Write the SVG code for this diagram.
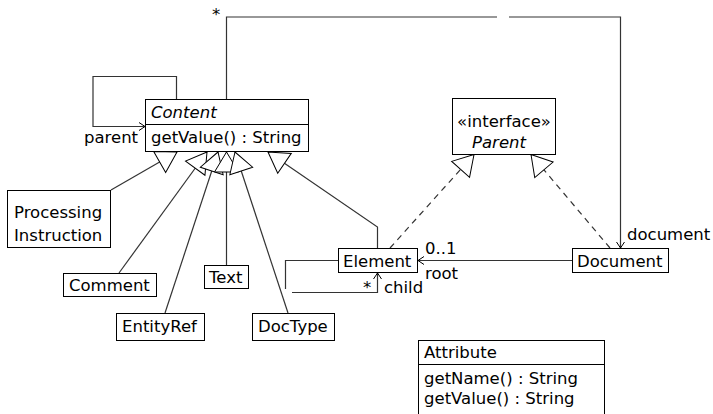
<svg xmlns="http://www.w3.org/2000/svg" width="713" height="414" viewBox="0 0 713 414">
<style>
text{font-family:"DejaVu Sans","Liberation Sans",sans-serif;font-size:16.5px;fill:#000}
.it{font-style:italic}
.box{fill:#fff;stroke:#000;stroke-width:1}
.ln{fill:none;stroke:#333;stroke-width:1.2}
.dash{stroke-dasharray:6,5}
</style>
<defs>
<marker id="gen" viewBox="-22 -14 25 28" refX="0" refY="0" markerWidth="25" markerHeight="28" markerUnits="userSpaceOnUse" orient="auto">
<path d="M0,0 L-20,-12 L-20,12 Z" fill="#fff" stroke="#000" stroke-width="1" stroke-dasharray="none"/>
</marker>
<marker id="open" viewBox="-8 -6 10 12" refX="0" refY="0" markerWidth="10" markerHeight="12" markerUnits="userSpaceOnUse" orient="auto">
<path d="M-6,-4 L0,0 L-6,4" fill="none" stroke="#000" stroke-width="1"/>
</marker>
</defs>
<rect width="713" height="414" fill="#fff"/>
<g id="connectors">
<path class="ln" d="M111,190 L177,152" marker-end="url(#gen)"/>
<path class="ln" d="M119,273 L207,152" marker-end="url(#gen)"/>
<path class="ln" d="M165,313 L218,152" marker-end="url(#gen)"/>
<path class="ln" d="M226.5,265 L226.5,152" marker-end="url(#gen)"/>
<path class="ln" d="M288,313 L235,152" marker-end="url(#gen)"/>
<path class="ln" d="M377.5,248 V227 L268,152" marker-end="url(#gen)"/>
<path class="ln dash" d="M390,248 L474,154.5" marker-end="url(#gen)"/>
<path class="ln dash" d="M610,248 L531,154.5" marker-end="url(#gen)"/>
<path class="ln" d="M176.5,99.5 V76.5 H93 V126.5 H145" marker-end="url(#open)"/>
<path class="ln" d="M226.5,99.5 V17 H497"/>
<path class="ln" d="M509,17 H620.5 V248" marker-end="url(#open)"/>
<path class="ln" d="M572,260.5 H418" marker-end="url(#open)"/>
<path class="ln" d="M338,260.5 H285.5 V289"/>
<path class="ln" d="M292,292.5 H377.5 V273" marker-end="url(#open)"/>
<text x="212" y="20">*</text>
<text x="84" y="143">parent</text>
<text x="627" y="240">document</text>
<text x="425" y="254">0..1</text>
<text x="425" y="278.5">root</text>
<text x="363" y="293">*</text>
<text x="384" y="292.5">child</text>
</g>
<g id="Content">
<rect class="box" x="145.5" y="99.5" width="163" height="52"/>
<line x1="145.5" y1="124.5" x2="308.5" y2="124.5" stroke="#000"/>
<text class="it" x="151" y="118">Content</text>
<text x="151" y="143">getValue() : String</text>
</g>
<g id="Parent">
<rect class="box" x="452.5" y="98.5" width="103" height="56"/>
<text x="504" y="127" text-anchor="middle">«interface»</text>
<text class="it" x="499" y="147.5" text-anchor="middle">Parent</text>
</g>
<g id="ProcessingInstruction">
<rect class="box" x="7.5" y="190.5" width="103" height="57"/>
<text x="14" y="218">Processing</text>
<text x="14" y="241">Instruction</text>
</g>
<g id="Comment">
<rect class="box" x="63.5" y="273.5" width="93" height="23"/>
<text x="69" y="290.5">Comment</text>
</g>
<g id="Text">
<rect class="box" x="204.5" y="265.5" width="44" height="23"/>
<text x="209" y="282.5">Text</text>
</g>
<g id="EntityRef">
<rect class="box" x="116.5" y="313.5" width="88" height="27"/>
<text x="122" y="331.5">EntityRef</text>
</g>
<g id="DocType">
<rect class="box" x="252.5" y="313.5" width="82" height="27"/>
<text x="258" y="331.5">DocType</text>
</g>
<g id="Element">
<rect class="box" x="338.5" y="248.5" width="79" height="24"/>
<text x="343" y="266.5">Element</text>
</g>
<g id="Document">
<rect class="box" x="572.5" y="248.5" width="96" height="24"/>
<text x="577" y="266.5">Document</text>
</g>
<g id="Attribute">
<rect class="box" x="418.5" y="340.5" width="186" height="80"/>
<line x1="418.5" y1="364.5" x2="604.5" y2="364.5" stroke="#000"/>
<text x="424" y="358">Attribute</text>
<text x="424" y="384">getName() : String</text>
<text x="424" y="404">getValue() : String</text>
</g>
</svg>
